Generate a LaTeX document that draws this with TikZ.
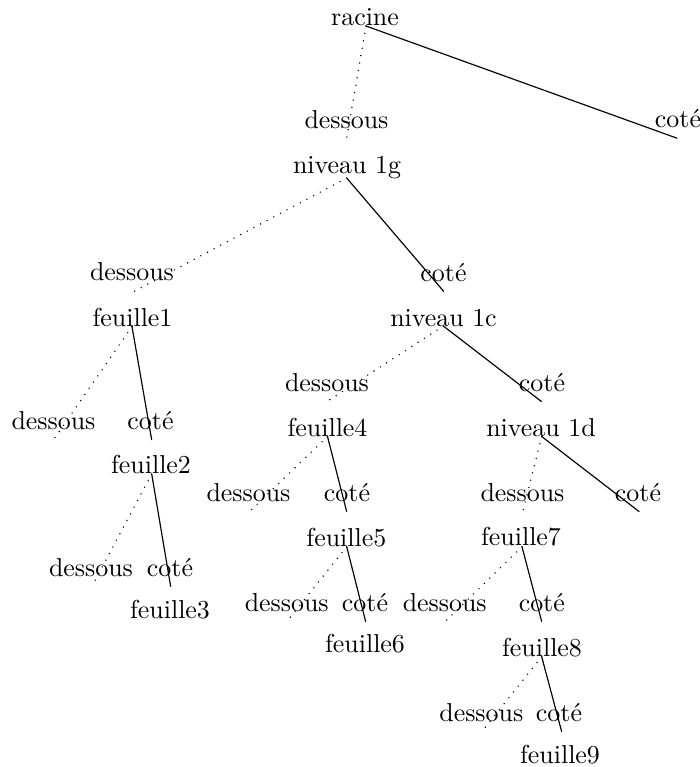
\documentclass[tikz,border=0pt]{standalone}
\begin{document}
\begin{tikzpicture}[x=0.386pt,y=-0.386pt,
  lbl/.style={anchor=base,inner sep=0pt,outer sep=0pt,font=\fontsize{10}{12}\selectfont},
  under/.style={line width=0.6pt,line cap=round,dash pattern=on 0pt off 2.9pt},
  side/.style={line width=0.45pt}]
\useasboundingbox (0,0) rectangle (699,767);
% tree nodes
\node[lbl] (racine) at (365,25) {racine};
\coordinate (sR) at (366,26);
\node[lbl] (n1g) at (347,173) {niveau 1g};
\coordinate (s1g) at (346.7,178);
\node[lbl] (f1) at (132.5,326) {feuille1};
\coordinate (sf1) at (132,326.5);
\node[lbl] (f2) at (151,473.3) {feuille2};
\coordinate (sf2) at (151.7,474);
\node[lbl] (f3) at (170,618) {feuille3};
\node[lbl] (n1c) at (443.5,326) {niveau 1c};
\coordinate (s1c) at (443.3,326);
\node[lbl] (f4) at (327.5,436.7) {feuille4};
\coordinate (sf4) at (327.5,436.5);
\node[lbl] (f5) at (346.3,546.7) {feuille5};
\coordinate (sf5) at (346.7,546.7);
\node[lbl] (f6) at (365,652) {feuille6};
\node[lbl] (n1d) at (541,436.7) {niveau 1d};
\coordinate (s1d) at (541.7,436.5);
\node[lbl] (f7) at (521,545.5) {feuille7};
\coordinate (sf7) at (522,546.7);
\node[lbl] (f8) at (542,656.7) {feuille8};
\coordinate (sf8) at (541.7,656.7);
\node[lbl] (f9) at (560,763.5) {feuille9};
% edge ends and labels
\coordinate (eRd) at (346.7,138);   \node[lbl] (lRd) at (346.5,128) {dessous};
\coordinate (eRc) at (677.3,138.3); \node[lbl] (lRc) at (678,127) {coté};
\coordinate (e1gd) at (131.7,292.7); \node[lbl] (l1gd) at (132,280) {dessous};
\coordinate (e1gc) at (444,291.7);   \node[lbl] (l1gc) at (443.5,281.7) {coté};
\coordinate (ef1d) at (53,440.5);    \node[lbl] (lf1d) at (53.5,429) {dessous};
\coordinate (ef1c) at (151.7,440);   \node[lbl] (lf1c) at (150.5,429) {coté};
\coordinate (ef2d) at (91.7,586.7);  \node[lbl] (lf2d) at (91,576.7) {dessous};
\coordinate (ef2c) at (170.7,586.7); \node[lbl] (lf2c) at (170,576.7) {coté};
\coordinate (e1cd) at (326.7,401.7); \node[lbl] (l1cd) at (327,391.7) {dessous};
\coordinate (e1cc) at (541.7,401.7); \node[lbl] (l1cc) at (542,391.7) {coté};
\coordinate (ef4d) at (249.3,511.7); \node[lbl] (lf4d) at (248.5,501.7) {dessous};
\coordinate (ef4c) at (346.7,511.7); \node[lbl] (lf4c) at (347,501.7) {coté};
\coordinate (ef5d) at (286.7,621.7); \node[lbl] (lf5d) at (286.7,611) {dessous};
\coordinate (ef5c) at (365.7,621.7); \node[lbl] (lf5c) at (365,611) {coté};
\coordinate (e1dd) at (522.7,511.7); \node[lbl] (l1dd) at (522.5,501.7) {dessous};
\coordinate (e1dc) at (639.3,511.7); \node[lbl] (l1dc) at (638,501.7) {coté};
\coordinate (ef7d) at (445,621.7);   \node[lbl] (lf7d) at (444.7,611.7) {dessous};
\coordinate (ef7c) at (541.7,621.7); \node[lbl] (lf7c) at (541.8,611.7) {coté};
\coordinate (ef8d) at (481.7,731.7); \node[lbl] (lf8d) at (481.3,721.7) {dessous};
\coordinate (ef8c) at (561.7,731.7); \node[lbl] (lf8c) at (559,721.7) {coté};
% connectors
\draw[under] (sR) -- (eRd);   \draw[side] (sR) -- (eRc);
\draw[under] (s1g) -- (e1gd); \draw[side] (s1g) -- (e1gc);
\draw[under] (sf1) -- (ef1d); \draw[side] (sf1) -- (ef1c);
\draw[under] (sf2) -- (ef2d); \draw[side] (sf2) -- (ef2c);
\draw[under] (s1c) -- (e1cd); \draw[side] (s1c) -- (e1cc);
\draw[under] (sf4) -- (ef4d); \draw[side] (sf4) -- (ef4c);
\draw[under] (sf5) -- (ef5d); \draw[side] (sf5) -- (ef5c);
\draw[under] (s1d) -- (e1dd); \draw[side] (s1d) -- (e1dc);
\draw[under] (sf7) -- (ef7d); \draw[side] (sf7) -- (ef7c);
\draw[under] (sf8) -- (ef8d); \draw[side] (sf8) -- (ef8c);
\end{tikzpicture}
\end{document}
